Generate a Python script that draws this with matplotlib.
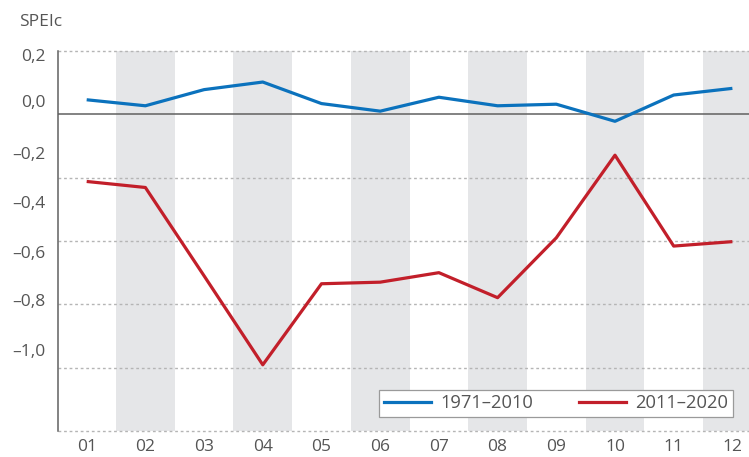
import numpy as np
import matplotlib.pyplot as plt
from matplotlib.lines import Line2D

# Дані (значення SPEIc по місяцях)
months = ['01', '02', '03', '04', '05', '06', '07', '08', '09', '10', '11', '12']
spei_1971_2010 = [0.046, 0.027, 0.078, 0.102, 0.034, 0.010, 0.054, 0.027, 0.032, -0.022, 0.061, 0.082]
spei_2011_2020 = [-0.212, -0.231, -0.510, -0.791, -0.535, -0.530, -0.500, -0.579, -0.390, -0.129, -0.416, -0.402]
series_labels = ['1971–2010', '2011–2020']

# Підписи осі Y (у вихідному малюнку вони зсунуті відносно сітки)
ytick_labels = ['0,2', '0,0', '–0,2', '–0,4', '–0,6', '–0,8', '–1,0']
ytick_pos = [0.186, 0.041, -0.123, -0.277, -0.435, -0.586, -0.743]
grid_levels = [0.2, -0.2, -0.4, -0.6, -0.8, -1.0]

plt.rcParams['font.family'] = ['Open Sans', 'DejaVu Sans']

blue = '#0b72bd'
red = '#c21f2a'
text_col = '#555555'
fs = 12.5

fig = plt.figure(figsize=(7.49, 4.57), dpi=100)
ax = fig.add_axes([0.0774, 0.0569, 0.9226, 0.8315])

x = np.arange(1, len(months) + 1)

# сірі смуги для парних місяців
for i in x:
    if i % 2 == 0:
        ax.axvspan(i - 0.5, i + 0.5, color='#e5e6e8', lw=0, zorder=0)

# пунктирна сітка
for g in grid_levels:
    ax.axhline(g, color='#b5b5b5', lw=1, ls=(0, (2, 2)), zorder=1, clip_on=False)
ax.axhline(0, color='#606060', lw=1.1, zorder=2)

ax.plot(x, spei_1971_2010, color=blue, lw=2.3, zorder=3, solid_capstyle='butt')
ax.plot(x, spei_2011_2020, color=red, lw=2.3, zorder=3, solid_capstyle='butt')

ax.set_xlim(0.511, 12.283)
ax.set_ylim(-1.0, 0.2)

ax.set_xticks(x)
ax.set_xticklabels(months, fontsize=fs, color=text_col)
ax.set_yticks(ytick_pos)
ax.set_yticklabels(ytick_labels, fontsize=fs, color=text_col)
ax.tick_params(axis='x', length=0, pad=6)
ax.tick_params(axis='y', length=0, pad=9)

for s in ['top', 'right', 'bottom']:
    ax.spines[s].set_visible(False)
ax.spines['left'].set_color('#606060')
ax.spines['left'].set_linewidth(1.1)

fig.text(19 / 749, 1 - 22 / 457, 'SPEIc', fontsize=fs, color=text_col, va='center', ha='left')

handles = [Line2D([], [], color=blue, lw=2.3), Line2D([], [], color=red, lw=2.3)]
leg = ax.legend(handles, series_labels, ncol=2, loc='lower left',
                bbox_to_anchor=(0.4645, 0.0368, 0.5125, 0.0895), mode='expand',
                fontsize=13.2, frameon=True, fancybox=False, handlelength=2.6,
                handletextpad=0.5, borderaxespad=0, borderpad=0.25, columnspacing=1.8)
leg.get_frame().set_edgecolor('#9a9a9a')
leg.get_frame().set_linewidth(0.9)
leg.get_frame().set_facecolor('white')
leg.get_frame().set_alpha(1)
leg.set_zorder(5)
for t in leg.get_texts():
    t.set_color(text_col)

fig.savefig('out.png', dpi=100)
